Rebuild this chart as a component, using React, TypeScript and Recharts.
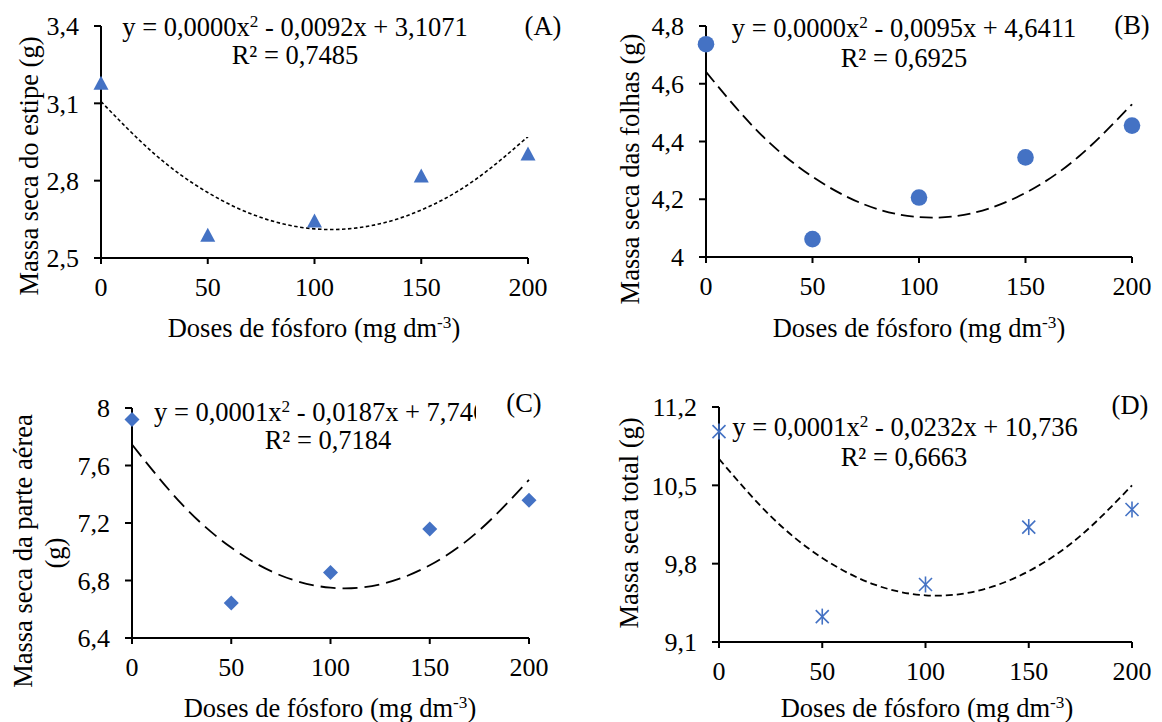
import React from "react";
import {
  ComposedChart,
  Line,
  Scatter,
  XAxis,
  YAxis,
} from "recharts";

// doses de fósforo (mg dm-3)
const doses = [0, 50, 100, 150, 200];
const estipe = [3.18, 2.59, 2.645, 2.82, 2.905];
const folhas = [4.737, 4.062, 4.206, 4.345, 4.455];
const parteAerea = [7.92, 6.643, 6.855, 7.158, 7.358];
const total = [10.98, 9.327, 9.614, 10.127, 10.284];

// trend lines
const trendDoses = [0, 25, 50, 75, 100, 125, 150, 175, 200];
const trendEstipe = [3.107, 2.904, 2.754, 2.657, 2.613, 2.623, 2.686, 2.802, 2.971];
const trendFolhas = [4.641, 4.43, 4.278, 4.18, 4.138, 4.152, 4.222, 4.348, 4.529];
const trendParteAerea = [7.746, 7.333, 7.029, 6.835, 6.75, 6.773, 6.906, 7.149, 7.5];
const trendTotal = [10.736, 10.225, 9.851, 9.615, 9.517, 9.556, 9.733, 10.048, 10.5];

const xTicks = [0, 50, 100, 150, 200];
const ticksEstipe = [2.5, 2.8, 3.1, 3.4];
const ticksFolhas = [4, 4.2, 4.4, 4.6, 4.8];
const ticksParteAerea = [6.4, 6.8, 7.2, 7.6, 8];
const ticksTotal = [9.1, 9.8, 10.5, 11.2];

const FONT = "'Liberation Serif', 'Times New Roman', serif";
const BLUE = "#4472C4";
const tickStyle = { fontSize: 26, fill: "#000", fontFamily: FONT };
const axisLine = { stroke: "#000", strokeWidth: 2 };

const zip = (xs: number[], ys: number[]) => xs.map((x, i) => ({ x, y: ys[i] }));
const fmt = (v: number) => String(v).replace(".", ",");

const Triangle = (p: any) => (
  <polygon
    points={`${p.cx},${p.cy - 7} ${p.cx + 7.5},${p.cy + 7} ${p.cx - 7.5},${p.cy + 7}`}
    fill={BLUE}
  />
);
const Dot = (p: any) => <circle cx={p.cx} cy={p.cy} r={8.3} fill={BLUE} />;
const Diamond = (p: any) => (
  <polygon
    points={`${p.cx},${p.cy - 7.5} ${p.cx + 7.5},${p.cy} ${p.cx},${p.cy + 7.5} ${p.cx - 7.5},${p.cy}`}
    fill={BLUE}
  />
);
const Star = (p: any) => (
  <g stroke={BLUE} strokeWidth={1.6}>
    <line x1={p.cx - 6.5} y1={p.cy - 6.5} x2={p.cx + 6.5} y2={p.cy + 6.5} />
    <line x1={p.cx - 6.5} y1={p.cy + 6.5} x2={p.cx + 6.5} y2={p.cy - 6.5} />
    <line x1={p.cx} y1={p.cy - 8} x2={p.cx} y2={p.cy + 8} />
  </g>
);

interface PanelProps {
  left: number;
  top: number;
  width: number;
  height: number;
  margin: { top: number; right: number; bottom: number; left: number };
  points: { x: number; y: number }[];
  trend: { x: number; y: number }[];
  yTicks: number[];
  shape: (p: any) => React.ReactElement;
  dash: string;
  lineWidth: number;
}

function Panel(props: PanelProps) {
  const { yTicks } = props;
  return (
    <div style={{ position: "absolute", left: props.left, top: props.top }}>
      <ComposedChart width={props.width} height={props.height} margin={props.margin}>
        <XAxis
          type="number"
          dataKey="x"
          domain={[0, 200]}
          ticks={xTicks}
          height={40}
          axisLine={axisLine}
          tickLine={axisLine}
          tickSize={6}
          tickMargin={14}
          tick={tickStyle}
        />
        <YAxis
          type="number"
          dataKey="y"
          domain={[yTicks[0], yTicks[yTicks.length - 1]]}
          ticks={yTicks}
          width={60}
          axisLine={axisLine}
          tickLine={axisLine}
          tickSize={7}
          tickMargin={15}
          tick={tickStyle}
          tickFormatter={fmt}
        />
        <Line
          data={props.trend}
          dataKey="y"
          type="natural"
          stroke="#000"
          strokeWidth={props.lineWidth}
          strokeDasharray={props.dash}
          dot={false}
          activeDot={false}
          isAnimationActive={false}
        />
        <Scatter
          data={props.points}
          dataKey="y"
          shape={props.shape}
          isAnimationActive={false}
        />
      </ComposedChart>
    </div>
  );
}

const txt = (x: number, y: number, extra?: React.CSSProperties): React.CSSProperties => ({
  position: "absolute",
  left: x,
  top: y,
  transform: "translate(-50%, -50%)",
  whiteSpace: "nowrap",
  fontFamily: FONT,
  fontSize: 26.5,
  lineHeight: 1,
  color: "#000",
  ...extra,
});
const vtxt = (x: number, y: number): React.CSSProperties =>
  txt(x, y, { transform: "translate(-50%, -50%) rotate(-90deg)" });
const sup: React.CSSProperties = { fontSize: "0.65em", verticalAlign: "0.55em" };

const xTitle = (
  <>
    Doses de fósforo (mg dm<span style={sup}>-3</span>)
  </>
);

export default function App() {
  return (
    <div
      style={{
        position: "absolute",
        left: 0,
        top: 0,
        width: 1162,
        height: 722,
        background: "#fff",
        overflow: "hidden",
      }}
    >
      <Panel
        left={0}
        top={0}
        width={580}
        height={340}
        margin={{ top: 26, right: 52, bottom: 42, left: 41 }}
        points={zip(doses, estipe)}
        trend={zip(trendDoses, trendEstipe)}
        yTicks={ticksEstipe}
        shape={Triangle}
        dash="3.5 2.5"
        lineWidth={1.6}
      />
      <Panel
        left={580}
        top={0}
        width={582}
        height={340}
        margin={{ top: 26, right: 30, bottom: 43, left: 66 }}
        points={zip(doses, folhas)}
        trend={zip(trendDoses, trendFolhas)}
        yTicks={ticksFolhas}
        shape={Dot}
        dash="13 6"
        lineWidth={1.8}
      />
      <Panel
        left={0}
        top={380}
        width={580}
        height={342}
        margin={{ top: 28, right: 51, bottom: 44, left: 72 }}
        points={zip(doses, parteAerea)}
        trend={zip(trendDoses, trendParteAerea)}
        yTicks={ticksParteAerea}
        shape={Diamond}
        dash="15 7"
        lineWidth={1.8}
      />
      <Panel
        left={580}
        top={380}
        width={582}
        height={342}
        margin={{ top: 27, right: 30, bottom: 40, left: 79 }}
        points={zip(doses, total)}
        trend={zip(trendDoses, trendTotal)}
        yTicks={ticksTotal}
        shape={Star}
        dash="7 4"
        lineWidth={1.8}
      />

      {/* (A) */}
      <div style={txt(295, 27)}>
        y = 0,0000x<span style={sup}>2</span> - 0,0092x + 3,1071
      </div>
      <div style={txt(295, 55)}>R² = 0,7485</div>
      <div style={txt(543, 26)}>(A)</div>
      <div style={vtxt(29, 166)}>Massa seca do estipe (g)</div>
      <div style={txt(314, 328)}>{xTitle}</div>

      {/* (B) */}
      <div style={txt(904, 28)}>
        y = 0,0000x<span style={sup}>2</span> - 0,0095x + 4,6411
      </div>
      <div style={txt(904, 58)}>R² = 0,6925</div>
      <div style={txt(1132, 25)}>(B)</div>
      <div style={vtxt(630, 169)}>Massa seca das folhas (g)</div>
      <div style={txt(919, 328)}>{xTitle}</div>

      {/* (C) - equation is cut on the right by the (C) label, as in the original */}
      <div
        style={{
          position: "absolute",
          left: 154,
          top: 396,
          width: 322,
          height: 22,
          overflowX: "clip",
          overflowY: "visible",
          whiteSpace: "nowrap",
          fontFamily: FONT,
          fontSize: 26.5,
          lineHeight: "22px",
        }}
      >
        y = 0,0001x<span style={sup}>2</span> - 0,0187x + 7,746
      </div>
      <div style={txt(328, 440)}>R² = 0,7184</div>
      <div style={txt(524, 403)}>(C)</div>
      <div style={vtxt(23, 551)}>Massa seca da parte aérea</div>
      <div style={vtxt(55, 553)}>(g)</div>
      <div style={txt(330, 708)}>{xTitle}</div>

      {/* (D) */}
      <div style={txt(905, 427)}>
        y = 0,0001x<span style={sup}>2</span> - 0,0232x + 10,736
      </div>
      <div style={txt(904, 457)}>R² = 0,6663</div>
      <div style={txt(1130, 405)}>(D)</div>
      <div style={vtxt(629, 523)}>Massa seca total (g)</div>
      <div style={txt(927, 708)}>{xTitle}</div>
    </div>
  );
}
